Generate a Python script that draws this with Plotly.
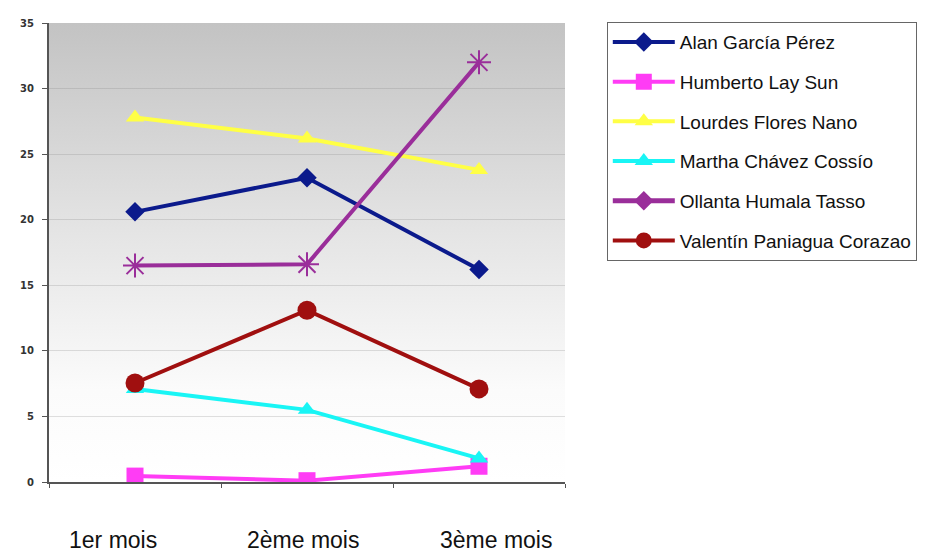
import base64
import plotly.graph_objects as go

months = ["1er mois", "2ème mois", "3ème mois"]
alan = [20.6, 23.2, 16.2]
humberto = [0.45, 0.1, 1.2]
lourdes = [27.8, 26.2, 23.8]
martha = [7.1, 5.5, 1.8]
ollanta = [16.5, 16.6, 32.0]
valentin = [7.55, 13.1, 7.1]
y_ticks = [0, 5, 10, 15, 20, 25, 30, 35]
month_label_pos = [0.124, 0.492, 0.866]  # paper x of the month captions

series = [
    ("Alan García Pérez", alan, "#0b1a8c", "diamond", 15),
    ("Humberto Lay Sun", humberto, "#ff3cf5", "square", 17),
    ("Lourdes Flores Nano", lourdes, "#ffff45", "triangle-up", 16),
    ("Martha Chávez Cossío", martha, "#19f5f5", "triangle-up", 16),
    ("Ollanta Humala Tasso", ollanta, "#9a2e9a", "asterisk-open", 20),
    ("Valentín Paniagua Corazao", valentin, "#a00f0f", "circle", 19),
]

fig = go.Figure()
for i, (name, vals, color, sym, size) in enumerate(series):
    if sym == "asterisk-open":
        fig.add_trace(go.Scatter(
            x=months, y=vals, mode="lines+markers", name=name, showlegend=False,
            legendgroup=f"g{i}",
            line=dict(color=color, width=4),
            marker=dict(symbol=sym, size=size, color=color, line=dict(color=color, width=2)),
        ))
        fig.add_trace(go.Scatter(
            x=[None], y=[None], mode="lines+markers", name=name, legendgroup=f"g{i}",
            line=dict(color=color, width=5),
            marker=dict(symbol="diamond", size=15, color=color),
        ))
    else:
        fig.add_trace(go.Scatter(
            x=months, y=vals, mode="lines+markers", name=name, legendgroup=f"g{i}",
            line=dict(color=color, width=4),
            marker=dict(symbol=sym, size=size, color=color),
        ))

svg = ('<svg xmlns="http://www.w3.org/2000/svg" width="100" height="100" preserveAspectRatio="none">'
       '<defs><linearGradient id="g" x1="0" y1="0" x2="0" y2="1">'
       '<stop offset="0" stop-color="#c3c3c3"/><stop offset="0.45" stop-color="#e4e4e4"/>'
       '<stop offset="0.8" stop-color="#fbfbfb"/><stop offset="1" stop-color="#ffffff"/>'
       '</linearGradient></defs><rect width="100" height="100" fill="url(#g)"/></svg>')
src = "data:image/svg+xml;base64," + base64.b64encode(svg.encode()).decode()

annotations = [
    dict(text=m, x=px, y=-0.126, xref="paper", yref="paper", showarrow=False,
         xanchor="center", yanchor="middle", font=dict(size=23, color="#111"))
    for m, px in zip(months, month_label_pos)
]

fig.update_layout(
    width=933, height=554,
    margin=dict(l=49, r=368, t=23, b=72),
    paper_bgcolor="white",
    plot_bgcolor="rgba(0,0,0,0)",
    font=dict(family="Liberation Sans, Arial, sans-serif", color="#111"),
    images=[dict(source=src, xref="paper", yref="paper", x=0, y=1, sizex=1, sizey=1,
                 sizing="stretch", xanchor="left", yanchor="top", layer="below")],
    annotations=annotations,
    xaxis=dict(
        type="category", range=[-0.5, 2.5], tickson="boundaries",
        ticks="outside", ticklen=4, tickcolor="#555",
        showline=True, linecolor="#555", linewidth=2, showgrid=False,
        showticklabels=False, automargin=False,
    ),
    yaxis=dict(
        range=[0, 35], tickvals=y_ticks, ticks="outside", ticklen=5, tickcolor="#555",
        showline=True, linecolor="#555", linewidth=2,
        showgrid=True, gridcolor="rgba(130,130,130,0.25)", gridwidth=1,
        tickfont=dict(size=10, color="#333", family="DejaVu Sans, sans-serif", weight="bold"),
        ticklabelstandoff=6, zeroline=False, automargin=False,
    ),
    legend=dict(
        x=1.081, y=1.002, xanchor="left", yanchor="top",
        bordercolor="#666", borderwidth=1, bgcolor="white",
        font=dict(size=19, color="#111"), tracegroupgap=12,
        traceorder="grouped", itemwidth=62,
    ),
)

fig.write_html("out.html", config={"displayModeBar": False},
               post_script="document.body.style.margin='0';")
